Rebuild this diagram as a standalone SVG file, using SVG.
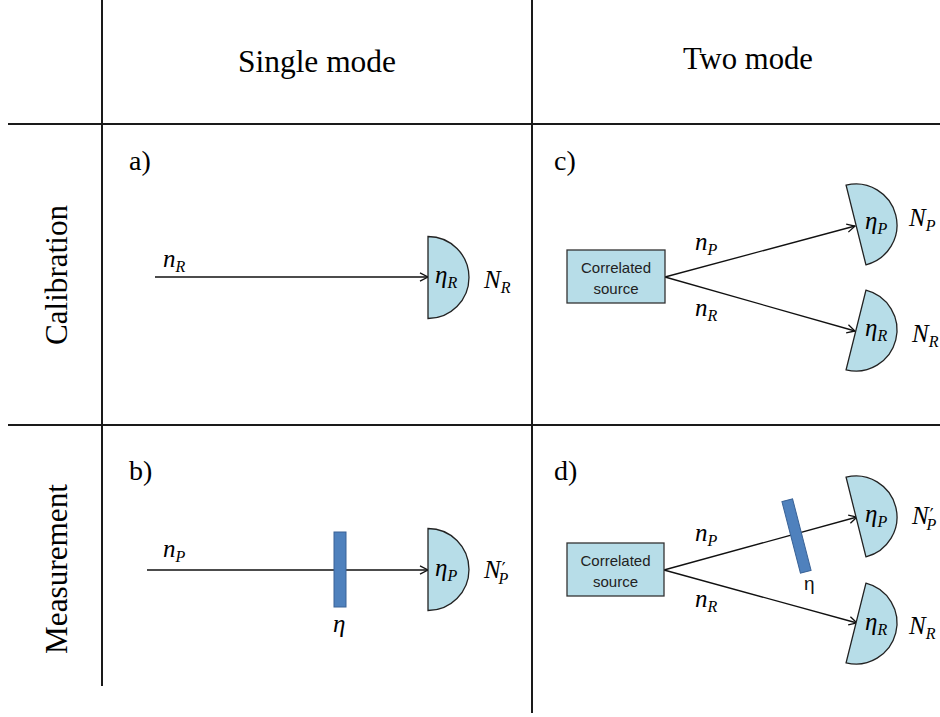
<svg xmlns="http://www.w3.org/2000/svg" width="940" height="717" viewBox="0 0 940 717">
<defs>
<style>
.grid{stroke:#1a1a1a;stroke-width:2;fill:none}
.hdr{font-family:"Liberation Serif","Times New Roman",serif;font-size:32px;fill:#000}
.lbl{font-family:"Liberation Serif","Times New Roman",serif;font-size:28px;fill:#000}
.m{font-family:"Liberation Serif","Times New Roman",serif;font-style:italic;font-size:25px;fill:#000}
.s{font-size:16px}
.pr{font-family:"DejaVu Sans",sans-serif;font-style:normal;font-size:17px}
.det{fill:#b7dde8;stroke:#222;stroke-width:1.3}
.box{fill:#b7dde8;stroke:#333;stroke-width:1.3}
.flt{fill:#4f81bd;stroke:#3a6397;stroke-width:1}
.src{font-family:"Liberation Sans",Arial,sans-serif;font-size:15px;fill:#222;text-anchor:middle}
.ray{stroke:#111;stroke-width:1.3;fill:none;marker-end:url(#ah)}
</style>
<marker id="ah" markerUnits="userSpaceOnUse" markerWidth="12" markerHeight="12" refX="9" refY="5" orient="auto">
<path d="M1,0.8 L9,5 L1,9.2" fill="none" stroke="#111" stroke-width="1.3"/>
</marker>
<path id="dshape" d="M0,-41 A41,41 0 0 1 0,41 Z"/>
</defs>

<g id="table">
<line class="grid" x1="102" y1="0" x2="102" y2="686"/>
<line class="grid" x1="532" y1="0" x2="532" y2="713"/>
<line class="grid" x1="8" y1="124" x2="940" y2="124"/>
<line class="grid" x1="8" y1="425" x2="940" y2="425"/>
<text class="hdr" x="317" y="72" text-anchor="middle" textLength="158" lengthAdjust="spacingAndGlyphs">Single mode</text>
<text class="hdr" x="748" y="69" text-anchor="middle" textLength="130" lengthAdjust="spacingAndGlyphs">Two mode</text>
<text class="hdr" transform="translate(67,275) rotate(-90)" text-anchor="middle" textLength="140" lengthAdjust="spacingAndGlyphs">Calibration</text>
<text class="hdr" transform="translate(67,569) rotate(-90)" text-anchor="middle" textLength="170" lengthAdjust="spacingAndGlyphs">Measurement</text>
<text class="lbl" x="129" y="170">a)</text>
<text class="lbl" x="129" y="480">b)</text>
<text class="lbl" x="554" y="170">c)</text>
<text class="lbl" x="554" y="480">d)</text>
</g>

<g id="connectors">
<line class="ray" x1="155" y1="277" x2="428" y2="277"/>
<line class="ray" x1="147" y1="570" x2="428" y2="570"/>
<line class="ray" x1="665" y1="277" x2="855" y2="226"/>
<line class="ray" x1="665" y1="277" x2="855" y2="331"/>
<line class="ray" x1="664" y1="570" x2="857" y2="517"/>
<line class="ray" x1="664" y1="570" x2="857" y2="623"/>
</g>

<g id="panel-a">
<text class="m" x="163" y="267">n<tspan class="s" dy="5">R</tspan></text>
<g id="det-a"><use href="#dshape" class="det" transform="translate(428,277.5)"/>
<text class="m" x="435" y="283">η<tspan class="s" dy="5">R</tspan></text></g>
<text class="m" x="484" y="288">N<tspan class="s" dy="5">R</tspan></text>
</g>

<g id="panel-b">
<text class="m" x="163" y="557">n<tspan class="s" dy="5">P</tspan></text>
<rect id="filter-b" class="flt" x="334" y="532" width="12" height="75"/>
<text class="m" x="333" y="632">η</text>
<g id="det-b"><use href="#dshape" class="det" transform="translate(428,569.5)"/>
<text class="m" x="435" y="576">η<tspan class="s" dy="5">P</tspan></text></g>
<text class="m" x="484" y="578">N<tspan class="pr" dx="1" dy="-3">′</tspan><tspan class="s" dx="-7" dy="9">P</tspan></text>
</g>

<g id="panel-c">
<g id="source-c"><rect class="box" x="567" y="250" width="98" height="53"/>
<text class="src" x="616" y="273">Correlated</text>
<text class="src" x="616" y="294">source</text></g>
<text class="m" x="695" y="250">n<tspan class="s" dy="5">P</tspan></text>
<text class="m" x="695" y="316">n<tspan class="s" dy="5">R</tspan></text>
<g id="det-cP"><use href="#dshape" class="det" transform="translate(856,225) rotate(-14)"/>
<text class="m" x="865" y="229">η<tspan class="s" dy="5">P</tspan></text></g>
<text class="m" x="909" y="226">N<tspan class="s" dy="5">P</tspan></text>
<g id="det-cR"><use href="#dshape" class="det" transform="translate(856,330) rotate(14)"/>
<text class="m" x="865" y="336">η<tspan class="s" dy="5">R</tspan></text></g>
<text class="m" x="912" y="342">N<tspan class="s" dy="5">R</tspan></text>
</g>

<g id="panel-d">
<g id="source-d"><rect class="box" x="567" y="543" width="97" height="53"/>
<text class="src" x="615.5" y="566">Correlated</text>
<text class="src" x="615.5" y="587">source</text></g>
<text class="m" x="695" y="541">n<tspan class="s" dy="5">P</tspan></text>
<text class="m" x="695" y="607">n<tspan class="s" dy="5">R</tspan></text>
<rect id="filter-d" class="flt" x="-5.5" y="-37" width="11" height="74" transform="translate(796.5,536) rotate(-14.5)"/>
<text x="804" y="590" style="font-family:'Liberation Sans',Arial,sans-serif;font-size:19px;fill:#111">η</text>
<g id="det-dP"><use href="#dshape" class="det" transform="translate(856,517) rotate(-14)"/>
<text class="m" x="865" y="522">η<tspan class="s" dy="5">P</tspan></text></g>
<text class="m" x="912" y="524">N<tspan class="pr" dx="1" dy="-3">′</tspan><tspan class="s" dx="-7" dy="9">P</tspan></text>
<g id="det-dR"><use href="#dshape" class="det" transform="translate(856,623) rotate(14)"/>
<text class="m" x="865" y="630">η<tspan class="s" dy="5">R</tspan></text></g>
<text class="m" x="909" y="634">N<tspan class="s" dy="5">R</tspan></text>
</g>
</svg>
